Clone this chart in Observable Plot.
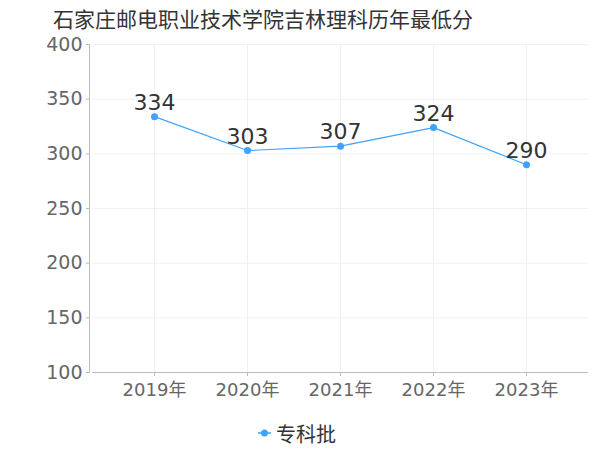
<!DOCTYPE html>
<html><head><meta charset="utf-8">
<script src="https://cdn.jsdelivr.net/npm/d3@7"></script>
<script src="https://cdn.jsdelivr.net/npm/@observablehq/plot@0.6"></script>
<style>
body{margin:0;background:#fff;font-family:"DejaVu Sans","Noto Sans CJK SC",sans-serif;}
#wrap{position:relative;width:600px;height:450px;overflow:hidden;}
#title{position:absolute;left:53px;top:6px;font-size:21px;color:#333;line-height:28px;white-space:nowrap;}
#legend{position:absolute;left:258px;top:420px;height:26px;display:flex;align-items:center;font-size:20px;color:#333;}
#legend svg{margin-right:5px;}
</style></head><body>
<div id="wrap">
<div id="chart"></div>
<div id="title">石家庄邮电职业技术学院吉林理科历年最低分</div>
<div id="legend"><svg width="13" height="10"><line x1="0" x2="13" y1="5" y2="5" stroke="#3fa2ff" stroke-width="1.5"/><circle cx="6.5" cy="5" r="3.5" fill="#3fa2ff"/></svg><span>专科批</span></div>
</div>
<script>
const years = ["2019", "2020", "2021", "2022", "2023"];
const scores = [334, 303, 307, 324, 290];
const yTicks = [100, 150, 200, 250, 300, 350, 400];
const seriesName = "专科批";
const data = years.map((y, i) => ({year: y, score: scores[i], series: seriesName}));
const color = "#3fa2ff";
const chart = Plot.plot({
  width: 600, height: 450,
  marginTop: 44, marginBottom: 78, marginLeft: 92, marginRight: 12,
  style: {fontFamily: '"DejaVu Sans","Noto Sans CJK SC",sans-serif', background: "transparent"},
  x: {type: "point", domain: years, padding: 0.64, label: null},
  y: {domain: [100, 400], label: null},
  marks: [
    Plot.gridY(yTicks, {stroke: "#f0f0f0", strokeOpacity: 1}),
    Plot.gridX(years, {stroke: "#f0f0f0", strokeOpacity: 1}),
    Plot.frame({anchor: "left", stroke: "#bbb", dx: -3}),
    Plot.axisY(yTicks, {tickSize: 3, tickPadding: 4, fontSize: 19, fill: "#666", stroke: "#bbb", dx: -3, label: null}),
    Plot.axisX(years, {tickSize: 4, tickPadding: 7, fontSize: 18, fill: "#666", stroke: "#bbb", tickFormat: d => d + "年", label: null}),
    Plot.ruleY([100], {stroke: "#bbb"}),
    Plot.line(data, {x: "year", y: "score", stroke: color, strokeWidth: 1.2}),
    Plot.dot(data, {x: "year", y: "score", r: 3.5, fill: color}),
    Plot.text(data, {x: "year", y: "score", text: d => String(d.score), dy: -14, fontSize: 22, fill: "#333"})
  ]
});
document.getElementById("chart").appendChild(chart);
</script>
</body></html>
